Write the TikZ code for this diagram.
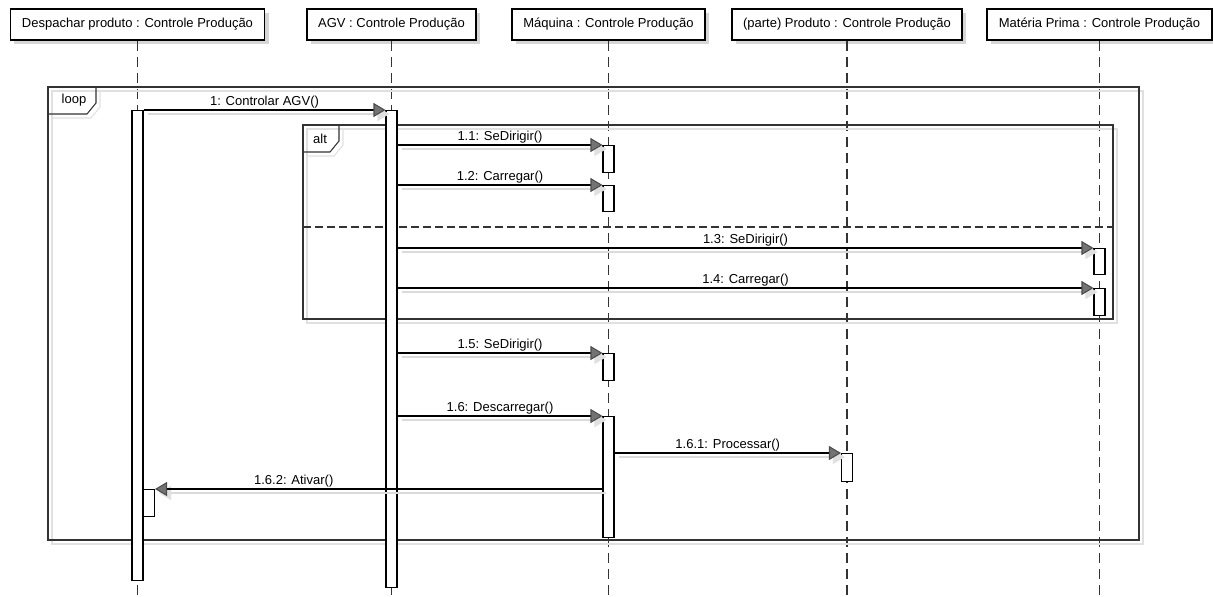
\documentclass[tikz,border=0pt]{standalone}
\usepackage{fontspec}
\setmainfont{Liberation Sans}
\usetikzlibrary{arrows.meta,shadows}

\begin{document}
\begin{tikzpicture}[
  x=0.02cm, y=-0.02cm,
  font=\fontsize{7.4}{9}\selectfont,
  >={Triangle[length=0.24cm, width=0.28cm, fill=black!55, color=black!70]},
  obj/.style={rectangle, draw, line width=1.1pt, fill=white, minimum height=0.62cm, inner xsep=0.23cm,
    drop shadow={shadow xshift=0.08cm, shadow yshift=-0.08cm, fill=black!16, opacity=1}},
  life/.style={black!80, line width=0.6pt, dash pattern=on 0.2cm off 0.12cm},
  act/.style={rectangle, draw, fill=white, line width=0.6pt, minimum width=0.22cm, inner sep=0pt, anchor=north},
  frame/.style={black!80, line width=0.6pt},
  fshadow/.style={black!12, line width=0.6pt},
  msg/.style={->, line width=0.6pt},
  mshadow/.style={-{Triangle[length=0.24cm, width=0.28cm, fill=black!12, color=black!12]}, black!14, line width=0.6pt},
  lbl/.style={above, inner sep=0.5pt},
]
  \useasboundingbox (0,0) rectangle (1213,596);
  \coordinate (bot) at (0,596);

  % Objects and lifelines
  \node[obj] (hDesp) at (137.5,24.5) {Despachar produto : Controle Produção};
  \node[obj] (hAGV) at (391.5,24.5) {AGV : Controle Produção};
  \node[obj] (hMaq) at (608.5,24.5) {Máquina : Controle Produção};
  \node[obj] (hProd) at (847,24.5) {(parte) Produto : Controle Produção};
  \node[obj] (hMat) at (1099.5,24.5) {Matéria Prima : Controle Produção};
  \foreach \h in {hDesp, hAGV, hMaq, hProd, hMat}
    \draw[life] (\h.south) -- (\h.south |- bot);

  % Combined fragments
  \draw[fshadow] (52,91) rectangle (1143,544);
  \draw[fshadow] (100,91) -- (100,107) -- (91,118) -- (52,118);
  \draw[frame] (48,87) rectangle (1139,540);
  \draw[frame] (48,87) -| (96,103) -- (87,114) -- (48,114);
  \node[inner sep=0pt] (tLoop) at (74,100) {loop};
  \draw[fshadow] (307,129) rectangle (1117,323);
  \draw[fshadow] (343,129) -- (343,145) -- (334,156) -- (307,156);
  \draw[frame] (303,125) rectangle (1113,319);
  \draw[frame] (303,125) -| (339,141) -- (330,152) -- (303,152);
  \node[inner sep=0pt] (tAlt) at (320,139) {alt};
  \draw[frame, dash pattern=on 0.16cm off 0.08cm] (303,227) -- (1113,227);

  % Activations
  \node[act, minimum height=9.4cm] (bDesp) at (137.5,110) {};
  \node[act, minimum height=9.54cm] (bAGV) at (391.5,110) {};
  \node[act, minimum height=0.54cm] (bMaq1) at (608.5,145) {};
  \node[act, minimum height=0.52cm] (bMaq2) at (608.5,185) {};
  \node[act, minimum height=0.52cm] (bMat1) at (1099.5,248) {};
  \node[act, minimum height=0.54cm] (bMat2) at (1099.5,288) {};
  \node[act, minimum height=0.54cm] (bMaq3) at (608.5,353) {};
  \node[act, minimum height=2.42cm] (bMaq4) at (608.5,416) {};
  \node[act, minimum height=0.56cm] (bProd) at (847,453) {};
  \node[act, minimum height=0.54cm] (bDesp2) at (149,489) {};

  % Message shadows
  \begin{scope}[transform canvas={shift={(0.08cm,-0.08cm)}}]
    \draw[mshadow] (bDesp.north east) -- (bAGV.north west);
    \draw[mshadow] (bAGV.east |- bMaq1.north) -- (bMaq1.north west);
    \draw[mshadow] (bAGV.east |- bMaq2.north) -- (bMaq2.north west);
    \draw[mshadow] (bAGV.east |- bMat1.north) -- (bMat1.north west);
    \draw[mshadow] (bAGV.east |- bMat2.north) -- (bMat2.north west);
    \draw[mshadow] (bAGV.east |- bMaq3.north) -- (bMaq3.north west);
    \draw[mshadow] (bAGV.east |- bMaq4.north) -- (bMaq4.north west);
    \draw[mshadow] (bMaq4.east |- bProd.north) -- (bProd.north west);
    \draw[mshadow] (bMaq4.west |- bDesp2.north) -- (bDesp2.north east);
  \end{scope}

  % Messages
  \draw[msg] (bDesp.north east) -- node[lbl] {1: Controlar AGV()} (bAGV.north west);
  \draw[msg] (bAGV.east |- bMaq1.north) -- node[lbl] {1.1: SeDirigir()} (bMaq1.north west);
  \draw[msg] (bAGV.east |- bMaq2.north) -- node[lbl] {1.2: Carregar()} (bMaq2.north west);
  \draw[msg] (bAGV.east |- bMat1.north) -- node[lbl] {1.3: SeDirigir()} (bMat1.north west);
  \draw[msg] (bAGV.east |- bMat2.north) -- node[lbl] {1.4: Carregar()} (bMat2.north west);
  \draw[msg] (bAGV.east |- bMaq3.north) -- node[lbl] {1.5: SeDirigir()} (bMaq3.north west);
  \draw[msg] (bAGV.east |- bMaq4.north) -- node[lbl] {1.6: Descarregar()} (bMaq4.north west);
  \draw[msg] (bMaq4.east |- bProd.north) -- node[lbl] {1.6.1: Processar()} (bProd.north west);
  \draw[msg] (bMaq4.west |- bDesp2.north) -- node[lbl, pos=0.69] {1.6.2: Ativar()} (bDesp2.north east);
\end{tikzpicture}
\end{document}
